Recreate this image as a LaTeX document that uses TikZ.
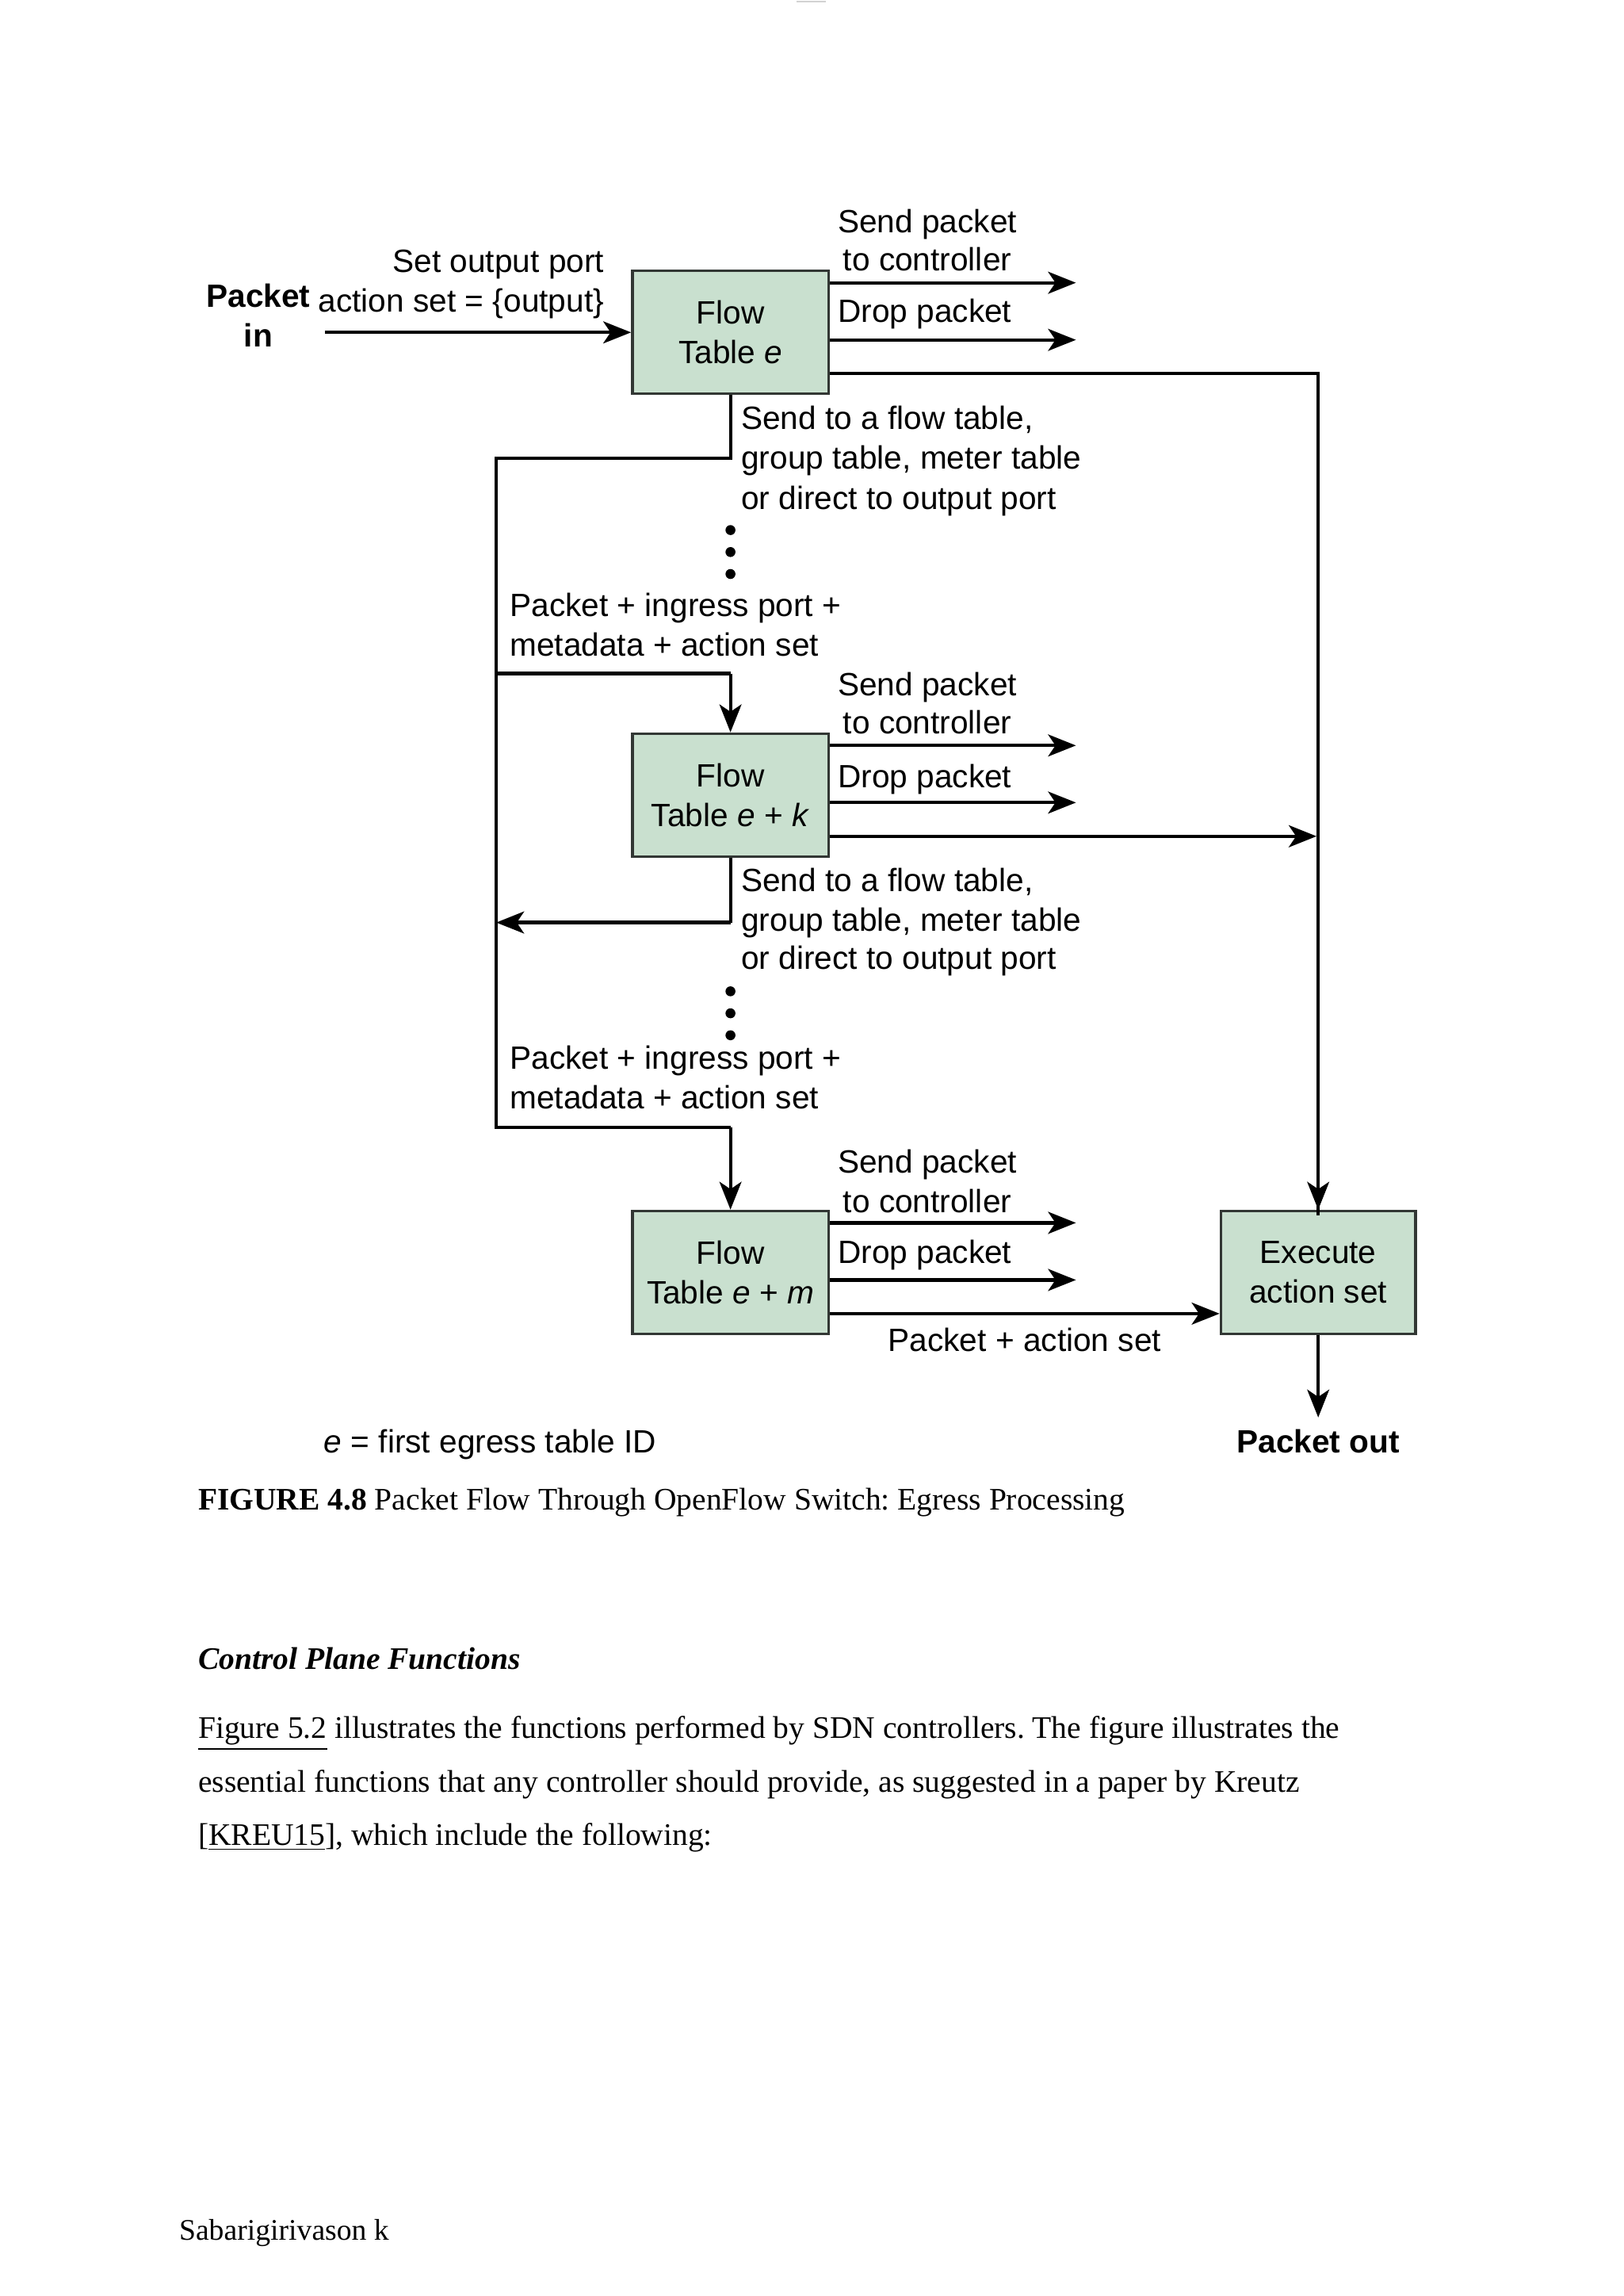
\documentclass[tikz,border=0pt]{standalone}
\usepackage{fontspec}
\setmainfont{Liberation Serif}
\newfontfamily\dsans{Liberation Sans}
\usetikzlibrary{arrows.meta,calc}
\frenchspacing
\definecolor{boxfill}{RGB}{201,224,207}
\definecolor{boxline}{RGB}{50,55,52}
\tikzset{
  lbl/.style={inner sep=0pt, font=\dsans\fontsize{11}{13.4}\selectfont},
  tbox/.style={draw=boxline, fill=boxfill, line width=0.9pt, minimum width=67pt, minimum height=42pt, align=center, inner sep=0pt, font=\dsans\fontsize{11}{13.5}\selectfont},
  arr/.style={line width=1.15pt, -{Stealth[length=9.5pt,width=7.5pt,inset=2.5pt]}},
  ln/.style={line width=1.15pt},
  vdot/.style={circle, fill=black, inner sep=0pt, minimum size=3.4pt},
  body/.style={inner sep=0pt, font=\fontsize{10.7}{12}\selectfont},
}
\begin{document}
\begin{tikzpicture}[x=0.5pt,y=-0.5pt]
\fill[white] (0,0) rectangle (1109,1568);
\useasboundingbox (0,0) rectangle (1109,1568);
\draw[gray!35, line width=0.6pt] (544,1) -- (564,1);

% boxes
\node[tbox] (fte) at (499,227) {Flow\\Table \textit{e}};
\node[tbox] (ftk) at (499,543) {Flow\\Table \textit{e} + \textit{k}};
\node[tbox] (ftm) at (499,869) {Flow\\Table \textit{e} + \textit{m}};
\node[tbox, minimum width=66.5pt] (ex) at (900.5,869) {Execute\\action set};

% input
\node[lbl, anchor=base east] (setport) at (413,186) {Set output port};
\node[lbl, anchor=base east] (actset) at (413,213) {action set = \{output\}};
\node[lbl, anchor=base, font=\dsans\bfseries\fontsize{11}{13.4}\selectfont] (pin1) at (176.5,210) {Packet};
\node[lbl, anchor=base, font=\dsans\bfseries\fontsize{11}{13.4}\selectfont] (pin2) at (176.5,237) {in};
\coordinate (pinstart) at (222,227);
\draw[arr] (pinstart) -- (fte.west);

% labels for table e
\node[lbl, anchor=base] (sp1a) at (633.5,159) {Send packet};
\node[lbl, anchor=base] (sp1b) at (633.5,185) {to controller};
\node[lbl, anchor=base west] (dp1) at (572,220) {Drop packet};
\node[lbl, anchor=base west] (st1a) at (506,293) {Send to a flow table,};
\node[lbl, anchor=base west] (st1b) at (506,320) {group table, meter table};
\node[lbl, anchor=base west] (st1c) at (506,348) {or direct to output port};
\node[lbl, anchor=base west] (pi1a) at (348,421) {Packet + ingress port +};
\node[lbl, anchor=base west] (pi1b) at (348,448) {metadata + action set};

% labels for table e+k
\node[lbl, anchor=base] (sp2a) at (633.5,475) {Send packet};
\node[lbl, anchor=base] (sp2b) at (633.5,501) {to controller};
\node[lbl, anchor=base west] (dp2) at (572,538) {Drop packet};
\node[lbl, anchor=base west] (st2a) at (506,609) {Send to a flow table,};
\node[lbl, anchor=base west] (st2b) at (506,636) {group table, meter table};
\node[lbl, anchor=base west] (st2c) at (506,662) {or direct to output port};
\node[lbl, anchor=base west] (pi2a) at (348,730) {Packet + ingress port +};
\node[lbl, anchor=base west] (pi2b) at (348,757) {metadata + action set};

% labels for table e+m
\node[lbl, anchor=base] (sp3a) at (633.5,801) {Send packet};
\node[lbl, anchor=base] (sp3b) at (633.5,828) {to controller};
\node[lbl, anchor=base west] (dp3) at (572,863) {Drop packet};
\node[lbl, anchor=base] (pas) at (700,923) {Packet + action set};

\node[lbl, anchor=base, font=\dsans\bfseries\fontsize{11}{13.4}\selectfont] (pout) at (900.5,992) {Packet out};
\node[lbl, anchor=base west] (enote) at (221,992) {\textit{e} = first egress table ID};

% outgoing arrows table e
\coordinate (e1) at ($(fte.north east)+(0,9)$);
\coordinate (e2) at ($(fte.north east)+(0,48)$);
\coordinate (e3) at ($(fte.north east)+(0,71)$);
\draw[arr] (e1) -- (e1 -| 735,0);
\draw[arr] (e2) -- (e2 -| 735,0);
\draw[ln] (e3) -| ([yshift=-2pt]ex.north);
\draw[arr] (e3 -| ex.north) -- (ex.north);

% outgoing arrows table e+k
\coordinate (k1) at ($(ftk.north east)+(0,9)$);
\coordinate (k2) at ($(ftk.north east)+(0,48)$);
\coordinate (k3) at ($(ftk.north east)+(0,71)$);
\coordinate (k3end) at ($(k3 -| ex.north)+(-1.1,0)$);
\draw[arr] (k1) -- (k1 -| 735,0);
\draw[arr] (k2) -- (k2 -| 735,0);
\draw[arr] (k3) -- (k3end);

% outgoing arrows table e+m
\coordinate (m1) at ($(ftm.north east)+(0,9)$);
\coordinate (m2) at ($(ftm.north east)+(0,48)$);
\coordinate (m3) at ($(ftm.north east)+(0,71)$);
\draw[arr] (m1) -- (m1 -| 735,0);
\draw[arr] (m2) -- (m2 -| 735,0);
\draw[arr] (m3) -- (m3 -| ex.west);

% output
\coordinate (outend) at (900.5,968);
\draw[arr] (ex.south) -- (outend);

% loop connectors
\coordinate (la) at (499,313);
\coordinate (lb) at (339,313);
\coordinate (lc) at (339,770);
\coordinate (ld) at (499,770);
\coordinate (le) at (339,460);
\coordinate (lf) at (499,460);
\coordinate (lg) at (499,630);
\coordinate (lh) at (339,630);
\draw[ln] (fte.south) -- (la) -- (lb) -- (lc) -- (ld);
\draw[arr] (ld) -- (ftm.north);
\draw[ln] (le) -- (lf);
\draw[arr] (lf) -- (ftk.north);
\draw[ln] (ftk.south) -- (lg);
\draw[arr] (lg) -- (lh);

% ellipsis dots
\node[vdot] (d1) at (499,362) {};
\node[vdot] (d2) at (499,377) {};
\node[vdot] (d3) at (499,392) {};
\node[vdot] (d4) at (499,677) {};
\node[vdot] (d5) at (499,692) {};
\node[vdot] (d6) at (499,707) {};

% page text
\node[body, anchor=base west] (cap) at (135,1031) {\textbf{FIGURE 4.8} Packet Flow Through OpenFlow Switch: Egress Processing};
\node[body, anchor=base west] (sec) at (135,1140) {\textbf{\textit{Control Plane Functions}}};
\node[body, anchor=base west] (par1) at (135,1187) {\underline{Figure 5.2} illustrates the functions performed by SDN controllers. The figure illustrates the};
\node[body, anchor=base west] (par2) at (135,1224) {essential functions that any controller should provide, as suggested in a paper by Kreutz};
\node[body, anchor=base west] (par3) at (135,1260) {[\underline{KREU15}], which include the following:};
\node[body, anchor=base west, font=\fontsize{10.2}{12}\selectfont] (foot) at (122,1530) {Sabarigirivason k};
\end{tikzpicture}
\end{document}
